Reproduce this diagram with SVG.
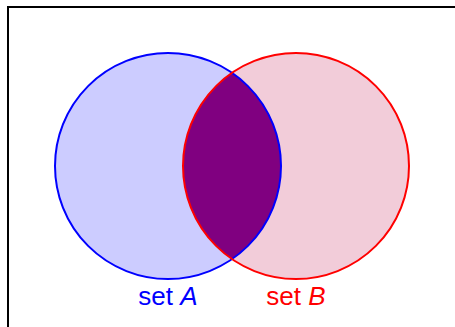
<svg xmlns="http://www.w3.org/2000/svg" width="455" height="327" viewBox="0 0 455 327">
<style>
.lbl{font-family:"Liberation Sans","DejaVu Sans",sans-serif;font-size:26px;text-anchor:middle}
.it{font-style:italic}
</style>
<defs>
<clipPath id="clipA"><circle cx="168" cy="166" r="113"/></clipPath>
</defs>
<rect x="8" y="7" width="460" height="340" fill="#ffffff" stroke="#000000" stroke-width="2"/>
<g id="setA-fill"><circle cx="168" cy="166" r="113" fill="#ccccff"/></g>
<g id="setB-fill"><circle cx="296" cy="166" r="113" fill="#f2ccd9"/></g>
<g id="intersection"><circle cx="296" cy="166" r="113" fill="#800080" clip-path="url(#clipA)"/></g>
<g id="setA">
<circle cx="168" cy="166" r="113" fill="none" stroke="#0000ff" stroke-width="2"/>
<text class="lbl" x="168" y="305" fill="#0000ff">set <tspan class="it">A</tspan></text>
</g>
<g id="setB">
<circle cx="296" cy="166" r="113" fill="none" stroke="#ff0000" stroke-width="2"/>
<text class="lbl" x="296" y="305" fill="#ff0000">set <tspan class="it">B</tspan></text>
</g>
</svg>
